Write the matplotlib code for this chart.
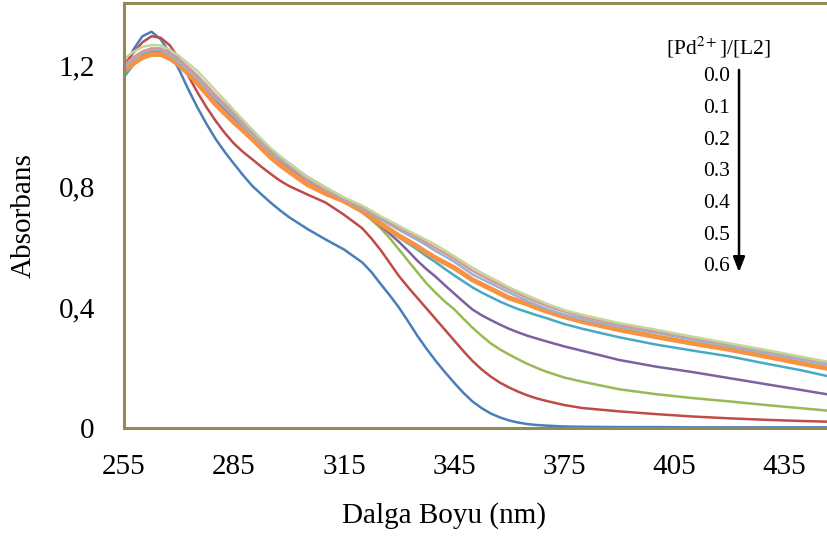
import matplotlib
matplotlib.use("Agg")
import matplotlib.pyplot as plt
from matplotlib.ticker import FuncFormatter

plt.rcParams['font.family'] = ['Liberation Serif', 'DejaVu Serif']
plt.rcParams['mathtext.fontset'] = 'stix'

# wavelength grid (nm): finer where the spectra bend
wl = [255, 257.5, 260, 262.5, 265, 267.5, 270, 272.5, 275, 277.5, 280, 282.5, 285, 287.5, 290, 292.5, 295, 297.5, 300,
      305, 310, 315,
      320, 322.5, 325, 327.5, 330, 332.5, 335, 337.5, 340, 342.5, 345, 347.5, 350, 352.5, 355, 357.5, 360, 362.5, 365, 367.5, 370,
      375, 380,
      390, 400, 410, 420, 430, 440, 450]

# absorbance spectra
blue = [1.17, 1.25, 1.295, 1.31, 1.285, 1.24, 1.185, 1.12, 1.06, 1.005, 0.955, 0.912, 0.873, 0.835, 0.80, 0.772, 0.745, 0.72, 0.697,
        0.658, 0.623, 0.59,
        0.547, 0.515, 0.476, 0.438, 0.398, 0.352, 0.305, 0.262, 0.222, 0.185, 0.15, 0.117, 0.088, 0.066, 0.048, 0.035, 0.025, 0.018, 0.013, 0.01, 0.008,
        0.005, 0.004,
        0.003, 0.003, 0.002, 0.002, 0.002, 0.002, 0.002]
red = [1.20, 1.24, 1.275, 1.295, 1.29, 1.265, 1.22, 1.165, 1.11, 1.06, 1.015, 0.975, 0.94, 0.912, 0.888, 0.863, 0.84, 0.818, 0.80,
       0.772, 0.745, 0.705,
       0.66, 0.626, 0.588, 0.545, 0.502, 0.465, 0.43, 0.395, 0.36, 0.325, 0.29, 0.255, 0.222, 0.194, 0.17, 0.15, 0.134, 0.12, 0.108, 0.098, 0.09,
       0.076, 0.066,
       0.055, 0.046, 0.038, 0.032, 0.027, 0.023, 0.02]
green = [1.17, 1.21, 1.235, 1.248, 1.25, 1.233, 1.21, 1.183, 1.155, 1.122, 1.09, 1.06, 1.03, 1.003, 0.975, 0.945, 0.915, 0.89, 0.865,
         0.822, 0.787, 0.752,
         0.712, 0.688, 0.66, 0.627, 0.59, 0.552, 0.515, 0.478, 0.447, 0.418, 0.393, 0.362, 0.332, 0.305, 0.28, 0.26, 0.243, 0.227, 0.212, 0.199, 0.187,
         0.167, 0.153,
         0.128, 0.112, 0.099, 0.088, 0.076, 0.065, 0.054]
purple = [1.17, 1.205, 1.23, 1.243, 1.245, 1.23, 1.205, 1.178, 1.15, 1.118, 1.085, 1.055, 1.025, 0.998, 0.97, 0.94, 0.91, 0.885, 0.862,
          0.82, 0.785, 0.752,
          0.715, 0.693, 0.668, 0.642, 0.615, 0.585, 0.553, 0.525, 0.50, 0.472, 0.445, 0.418, 0.392, 0.373, 0.357, 0.342, 0.328, 0.316, 0.305, 0.296, 0.287,
          0.27, 0.255,
          0.225, 0.203, 0.185, 0.165, 0.145, 0.125, 0.105]
cyan = [1.16, 1.20, 1.23, 1.243, 1.245, 1.232, 1.21, 1.183, 1.155, 1.125, 1.095, 1.068, 1.04, 1.013, 0.985, 0.952, 0.92, 0.897, 0.875,
        0.83, 0.795, 0.76,
        0.725, 0.702, 0.677, 0.653, 0.63, 0.61, 0.59, 0.568, 0.548, 0.526, 0.505, 0.485, 0.465, 0.448, 0.433, 0.418, 0.405, 0.393, 0.383, 0.373, 0.364,
        0.344, 0.328,
        0.30, 0.276, 0.256, 0.237, 0.213, 0.19, 0.163]
orange = [1.18, 1.205, 1.225, 1.235, 1.235, 1.222, 1.20, 1.172, 1.14, 1.105, 1.07, 1.04, 1.01, 0.983, 0.955, 0.925, 0.895, 0.87, 0.848,
          0.805, 0.775, 0.75,
          0.717, 0.697, 0.675, 0.655, 0.635, 0.618, 0.60, 0.58, 0.562, 0.546, 0.53, 0.51, 0.49, 0.475, 0.46, 0.445, 0.43, 0.42, 0.41, 0.398, 0.387,
          0.368, 0.352,
          0.325, 0.302, 0.28, 0.26, 0.237, 0.213, 0.19]
lightblue = [1.19, 1.218, 1.24, 1.25, 1.25, 1.233, 1.21, 1.183, 1.155, 1.122, 1.09, 1.06, 1.03, 1.0, 0.97, 0.94, 0.91, 0.887, 0.865,
             0.822, 0.787, 0.755,
             0.725, 0.708, 0.69, 0.672, 0.655, 0.638, 0.622, 0.604, 0.585, 0.568, 0.55, 0.529, 0.508, 0.493, 0.478, 0.463, 0.448, 0.434, 0.42, 0.407, 0.395,
             0.375, 0.36,
             0.335, 0.315, 0.292, 0.27, 0.248, 0.225, 0.202]
pink = [1.20, 1.225, 1.245, 1.255, 1.255, 1.24, 1.22, 1.193, 1.165, 1.133, 1.10, 1.07, 1.04, 1.01, 0.98, 0.95, 0.92, 0.895, 0.87,
        0.825, 0.79, 0.758,
        0.73, 0.712, 0.695, 0.678, 0.662, 0.646, 0.63, 0.612, 0.595, 0.578, 0.56, 0.54, 0.52, 0.504, 0.488, 0.473, 0.458, 0.444, 0.43, 0.417, 0.405,
        0.385, 0.368,
        0.342, 0.32, 0.298, 0.277, 0.255, 0.232, 0.21]
lightgreen = [1.22, 1.243, 1.26, 1.266, 1.265, 1.25, 1.23, 1.205, 1.18, 1.148, 1.115, 1.083, 1.05, 1.018, 0.985, 0.955, 0.925, 0.90, 0.875,
              0.83, 0.795, 0.762,
              0.735, 0.718, 0.70, 0.684, 0.668, 0.652, 0.637, 0.621, 0.605, 0.587, 0.568, 0.549, 0.53, 0.513, 0.497, 0.481, 0.465, 0.451, 0.438, 0.425, 0.412,
              0.39, 0.374,
              0.347, 0.325, 0.302, 0.28, 0.258, 0.235, 0.212]

series = [blue, red, green, purple, cyan, orange, lightblue, pink, lightgreen]
colors = ['#4A7EBB', '#BE4B48', '#98B954', '#7D60A0', '#46AAC5',
          '#F69240', '#95B3D7', '#D99694', '#C3D69B']
widths = [1.8, 1.8, 1.8, 1.8, 1.8, 3.6, 1.8, 1.8, 1.8]

ratios = ['0.0', '0.1', '0.2', '0.3', '0.4', '0.5', '0.6']
xticks = [255, 285, 315, 345, 375, 405, 435]
yticks = [0, 0.4, 0.8, 1.2]

fig = plt.figure(figsize=(8.28, 5.43), dpi=100)
ax = fig.add_axes([0.1498, 0.2118, 0.8502, 0.7827])

for s, c, w in zip(series, colors, widths):
    ax.plot(wl, s, color=c, lw=w, solid_capstyle='round', solid_joinstyle='round')

ax.set_xlim(255, 447)
ax.set_ylim(0, 1.405)
ax.set_xticks(xticks)
ax.set_yticks(yticks)
ax.yaxis.set_major_formatter(FuncFormatter(lambda v, p: ('%g' % v).replace('.', ',')))
ax.tick_params(length=0, labelsize=21)
ax.tick_params(axis='x', pad=19)
ax.tick_params(axis='y', pad=21)

for side in ['left', 'top', 'bottom']:
    ax.spines[side].set_color('#948A54')
    ax.spines[side].set_linewidth(2.2)
ax.spines['right'].set_visible(False)

ax.set_xlabel('Dalga Boyu (nm)', fontsize=21, va='center')
ax.xaxis.set_label_coords(0.4545, -0.205)
ax.set_ylabel('Absorbans', fontsize=21, va='center')
ax.yaxis.set_label_coords(-0.142, 0.5)

# ratio annotation
ax.text(0.8438, 0.8965, '[Pd$^{2+}$]/[L2]', transform=ax.transAxes,
        ha='center', va='center', fontsize=15.5)
for i, r in enumerate(ratios):
    ax.text(0.8608, 0.826 - i * 0.0745, r, transform=ax.transAxes,
            ha='right', va='center', fontsize=15.5)
ax.annotate('', xy=(0.8736, 0.36), xytext=(0.8736, 0.849),
            xycoords='axes fraction',
            arrowprops=dict(arrowstyle='-|>,head_length=0.9,head_width=0.35',
                            color='black', lw=1.8))

fig.savefig('out.png', dpi=100)
